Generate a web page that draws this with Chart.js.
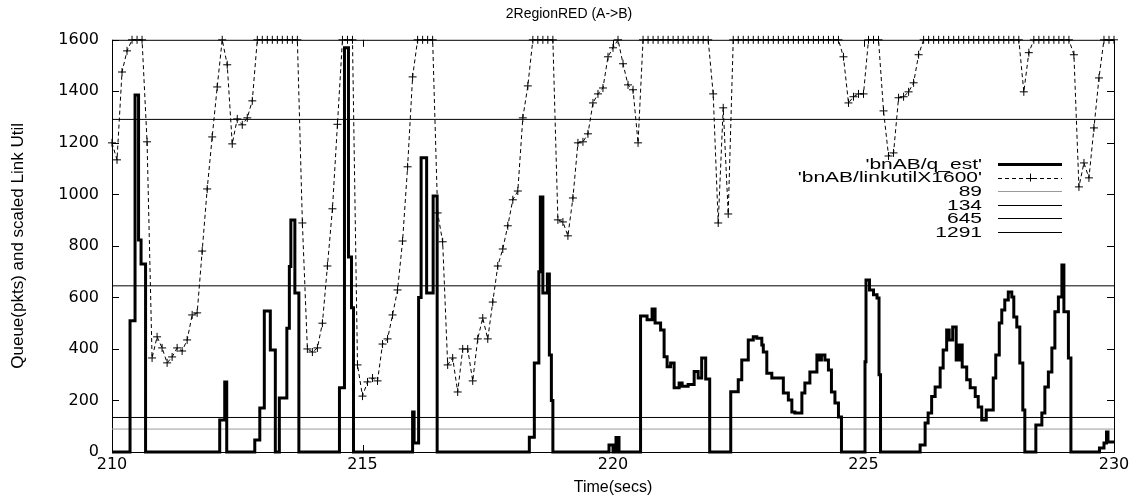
<!DOCTYPE html>
<html>
<head>
<meta charset="utf-8">
<script src="https://cdn.jsdelivr.net/npm/chart.js@4/dist/chart.umd.min.js"></script>
<style>
  html, body { margin: 0; padding: 0; background: #fff; }
</style>
</head>
<body>
<canvas id="myChart" width="1138" height="500"></canvas>
<script>
// link utilisation scaled by 1600, one sample every 0.1 s starting at 210 s
var utilStart = 210;
var utilStep = 0.1;
var linkUtil = [
  1200,1134,1475,1557,1600,1600,1600,1204,365,447,
  404,346,369,404,392,435,532,540,780,1021,
  1223,1417,1600,1503,1196,1293,1270,1297,1363,1600,
  1600,1600,1600,1600,1600,1600,1600,1600,889,400,
  388,404,500,722,944,1272,1600,1600,1600,338,
  217,272,287,276,419,439,532,629,819,1107,
  1456,1600,1600,1600,1600,928,816,338,365,233,
  400,400,276,439,520,439,582,722,788,878,
  979,1013,1297,1421,1600,1600,1600,1600,1600,901,
  893,839,986,1200,1204,1235,1355,1390,1413,1534,
  1569,1600,1507,1425,1406,1200,1600,1600,1600,1600,
  1600,1600,1600,1600,1600,1600,1600,1600,1600,1600,
  1390,889,1336,924,1600,1600,1600,1600,1600,1600,
  1600,1600,1600,1600,1600,1600,1600,1600,1600,1600,
  1600,1600,1600,1600,1600,1600,1534,1355,1379,1390,
  1390,1600,1600,1600,1324,1149,1161,1375,1379,1398,
  1433,1542,1600,1600,1600,1600,1600,1600,1600,1600,
  1600,1600,1600,1600,1600,1600,1600,1600,1600,1600,
  1600,1600,1398,1550,1600,1600,1600,1600,1600,1600,
  1600,1600,1542,1029,1122,1064,1258,1452,1600,1600,
  1600
];

// queue estimate: time where the value changes, and the value held from there
var qTimes = [
  210.00,210.36,210.46,210.53,210.58,210.67,
  212.15,212.25,212.29,
  212.85,212.95,213.04,213.16,213.26,
  213.34,213.49,213.54,213.57,213.65,213.73,
  214.54,214.64,214.72,214.78,214.82,
  216.00,216.03,216.12,216.17,216.28,216.41,216.49,
  218.33,218.43,218.52,218.55,218.60,218.69,218.73,218.77,218.80,
  219.92,220.00,220.06,220.12,
  220.55,220.68,220.78,220.84,220.95,221.02,221.08,221.15,221.22,221.32,221.38,221.50,221.62,221.70,221.77,221.85,221.93,
  222.35,222.50,222.57,222.70,222.80,222.87,222.97,223.00,223.07,223.17,223.40,223.50,223.57,223.63,223.77,223.83,223.93,224.07,224.13,224.16,224.23,224.30,224.36,224.43,224.50,224.56,
  225.03,225.05,225.12,225.20,225.27,225.31,225.34,
  226.13,226.23,226.29,226.36,226.43,226.53,226.59,226.66,226.71,226.78,226.85,226.91,226.97,
  227.06,227.13,227.23,227.29,227.36,227.45,227.59,227.64,227.71,227.76,227.82,227.89,227.96,
  228.00,228.06,228.12,228.18,228.22,
  228.44,228.56,228.62,228.69,228.76,228.82,228.89,228.96,229.00,229.09,229.14,
  229.71,229.80,229.85,229.88,230.00
];
var qEst = [
  0,509,1386,823,730,0,
  124,272,0,
  47,171,547,396,0,
  210,480,720,901,617,0,
  249,1569,757,560,0,
  155,35,600,1142,617,994,0,
  57,345,700,990,617,691,377,200,0,
  27,0,56,0,
  528,513,555,501,474,370,331,345,249,268,255,262,312,287,365,283,0,
  234,280,357,435,447,442,415,388,306,287,229,202,155,151,229,268,311,377,357,377,357,318,233,190,136,0,
  350,668,629,610,598,300,0,
  27,113,151,215,252,326,396,474,435,485,357,415,330,
  280,249,215,175,124,163,287,377,501,551,590,621,602,
  524,485,345,163,0,
  105,151,252,311,404,544,602,726,544,365,0,
  16,35,78,39,39
];

// constant reference levels
var refLevels = [89, 134, 645, 1291];

var xTicks = [210, 215, 220, 225, 230];
var yTicks = [0, 200, 400, 600, 800, 1000, 1200, 1400, 1600];

var qData = qTimes.map(function (t, i) { return { x: t, y: qEst[i] }; });
var utilData = linkUtil.map(function (v, i) {
  return { x: +(utilStart + i * utilStep).toFixed(1), y: v };
});

var datasets = [
  {
    label: "'bnAB/q_est'",
    data: qData,
    borderColor: '#000',
    borderWidth: 3,
    stepped: 'before',   // hold each value until the next change time
    pointRadius: 0,
    clip: false
  },
  {
    label: "'bnAB/linkutilX1600'",
    data: utilData,
    borderColor: '#000',
    borderWidth: 1,
    borderDash: [4, 3],
    pointStyle: 'cross',
    pointRadius: 4,
    pointBorderWidth: 1,
    pointBorderColor: '#000',
    clip: false
  }
];
refLevels.forEach(function (lvl, i) {
  datasets.push({
    label: String(lvl),
    data: [{ x: 210, y: lvl }, { x: 230, y: lvl }],
    borderColor: i == 0 ? '#9a9a9a' : '#000',
    borderWidth: 1,
    pointRadius: 0
  });
});

// plot frame with gnuplot style inward ticks
var framePlugin = {
  id: 'frame',
  beforeDatasetsDraw: function (chart) {
    var ctx = chart.ctx, a = chart.chartArea;
    var tl = 7;
    ctx.save();
    ctx.strokeStyle = '#000';
    ctx.lineWidth = 1;
    ctx.strokeRect(a.left + 0.5, a.top + 0.5, a.right - a.left, a.bottom - a.top);
    ctx.beginPath();
    chart.scales.y.ticks.forEach(function (t) {
      var py = Math.round(chart.scales.y.getPixelForValue(t.value)) + 0.5;
      ctx.moveTo(a.left, py); ctx.lineTo(a.left + tl, py);
      ctx.moveTo(a.right, py); ctx.lineTo(a.right - tl, py);
    });
    chart.scales.x.ticks.forEach(function (t) {
      var px = Math.round(chart.scales.x.getPixelForValue(t.value)) + 0.5;
      ctx.moveTo(px, a.bottom); ctx.lineTo(px, a.bottom - tl);
      ctx.moveTo(px, a.top); ctx.lineTo(px, a.top + tl);
    });
    ctx.stroke();
    ctx.restore();
  }
};

// legend inside the plot: right aligned text, line sample on its right
var keyPlugin = {
  id: 'key',
  afterDraw: function (chart) {
    var ctx = chart.ctx;
    var textRight = 982, x0 = 998, x1 = 1062, y0 = 164, dy = 13.6;
    ctx.save();
    ctx.font = '14px "Liberation Sans", Arial, sans-serif';
    ctx.textAlign = 'right';
    ctx.textBaseline = 'middle';
    ctx.fillStyle = '#000';
    chart.data.datasets.forEach(function (ds, i) {
      var y = y0 + i * dy;
      ctx.save();
      ctx.translate(textRight, y + 1);
      ctx.scale(1.5, 1);
      ctx.fillText(ds.label, 0, 0);
      ctx.restore();
      ctx.save();
      ctx.strokeStyle = ds.borderColor;
      ctx.lineWidth = ds.borderWidth;
      ctx.setLineDash(ds.borderDash || []);
      ctx.beginPath();
      ctx.moveTo(x0, Math.round(y) + 0.5);
      ctx.lineTo(x1, Math.round(y) + 0.5);
      ctx.stroke();
      if (ds.pointStyle == 'cross') {
        var cx = (x0 + x1) / 2;
        ctx.setLineDash([]);
        ctx.beginPath();
        ctx.moveTo(cx - 4, Math.round(y) + 0.5); ctx.lineTo(cx + 4, Math.round(y) + 0.5);
        ctx.moveTo(cx + 0.5, y - 4); ctx.lineTo(cx + 0.5, y + 4);
        ctx.stroke();
      }
      ctx.restore();
    });
    ctx.restore();
  }
};

var tickFont = { family: '"DejaVu Sans", sans-serif', size: 16 };

var ctx = document.getElementById('myChart');
var myChart = new Chart(ctx, {
  type: 'line',
  data: { datasets: datasets },
  options: {
    responsive: false,
    animation: false,
    devicePixelRatio: 1,
    layout: { padding: 0 },
    plugins: {
      legend: { display: false },
      tooltip: { enabled: false },
      title: {
        display: true,
        text: '2RegionRED (A->B)',
        color: '#000',
        font: { family: '"Liberation Sans", Arial, sans-serif', size: 14, weight: 'normal' },
        padding: { top: 6, bottom: 17 }
      }
    },
    scales: {
      x: {
        type: 'linear',
        min: 210,
        max: 230,
        afterBuildTicks: function (s) { s.ticks = xTicks.map(function (v) { return { value: v }; }); },
        afterFit: function (s) { s.height = 48; s.paddingRight = 24; },
        grid: { display: false, drawTicks: false },
        border: { display: false },
        ticks: { color: '#000', font: tickFont, padding: 3, maxRotation: 0,
                 callback: function (v) { return String(v); } },
        title: {
          display: true,
          text: 'Time(secs)',
          color: '#000',
          font: { family: '"Liberation Sans", Arial, sans-serif', size: 16 },
          padding: { top: 0, bottom: 3 }
        }
      },
      y: {
        min: 0,
        max: 1600,
        afterBuildTicks: function (s) { s.ticks = yTicks.map(function (v) { return { value: v }; }); },
        afterFit: function (s) { s.width = 112; },
        grid: { display: false, drawTicks: false },
        border: { display: false },
        ticks: { color: '#000', font: tickFont, padding: 13,
                 callback: function (v) { return String(v); } },
        title: {
          display: true,
          text: 'Queue(pkts) and scaled Link Util',
          color: '#000',
          font: { family: '"Liberation Sans", Arial, sans-serif', size: 17 },
          padding: { top: 8, bottom: 0 }
        }
      }
    }
  },
  plugins: [framePlugin, keyPlugin]
});
</script>
</body>
</html>
